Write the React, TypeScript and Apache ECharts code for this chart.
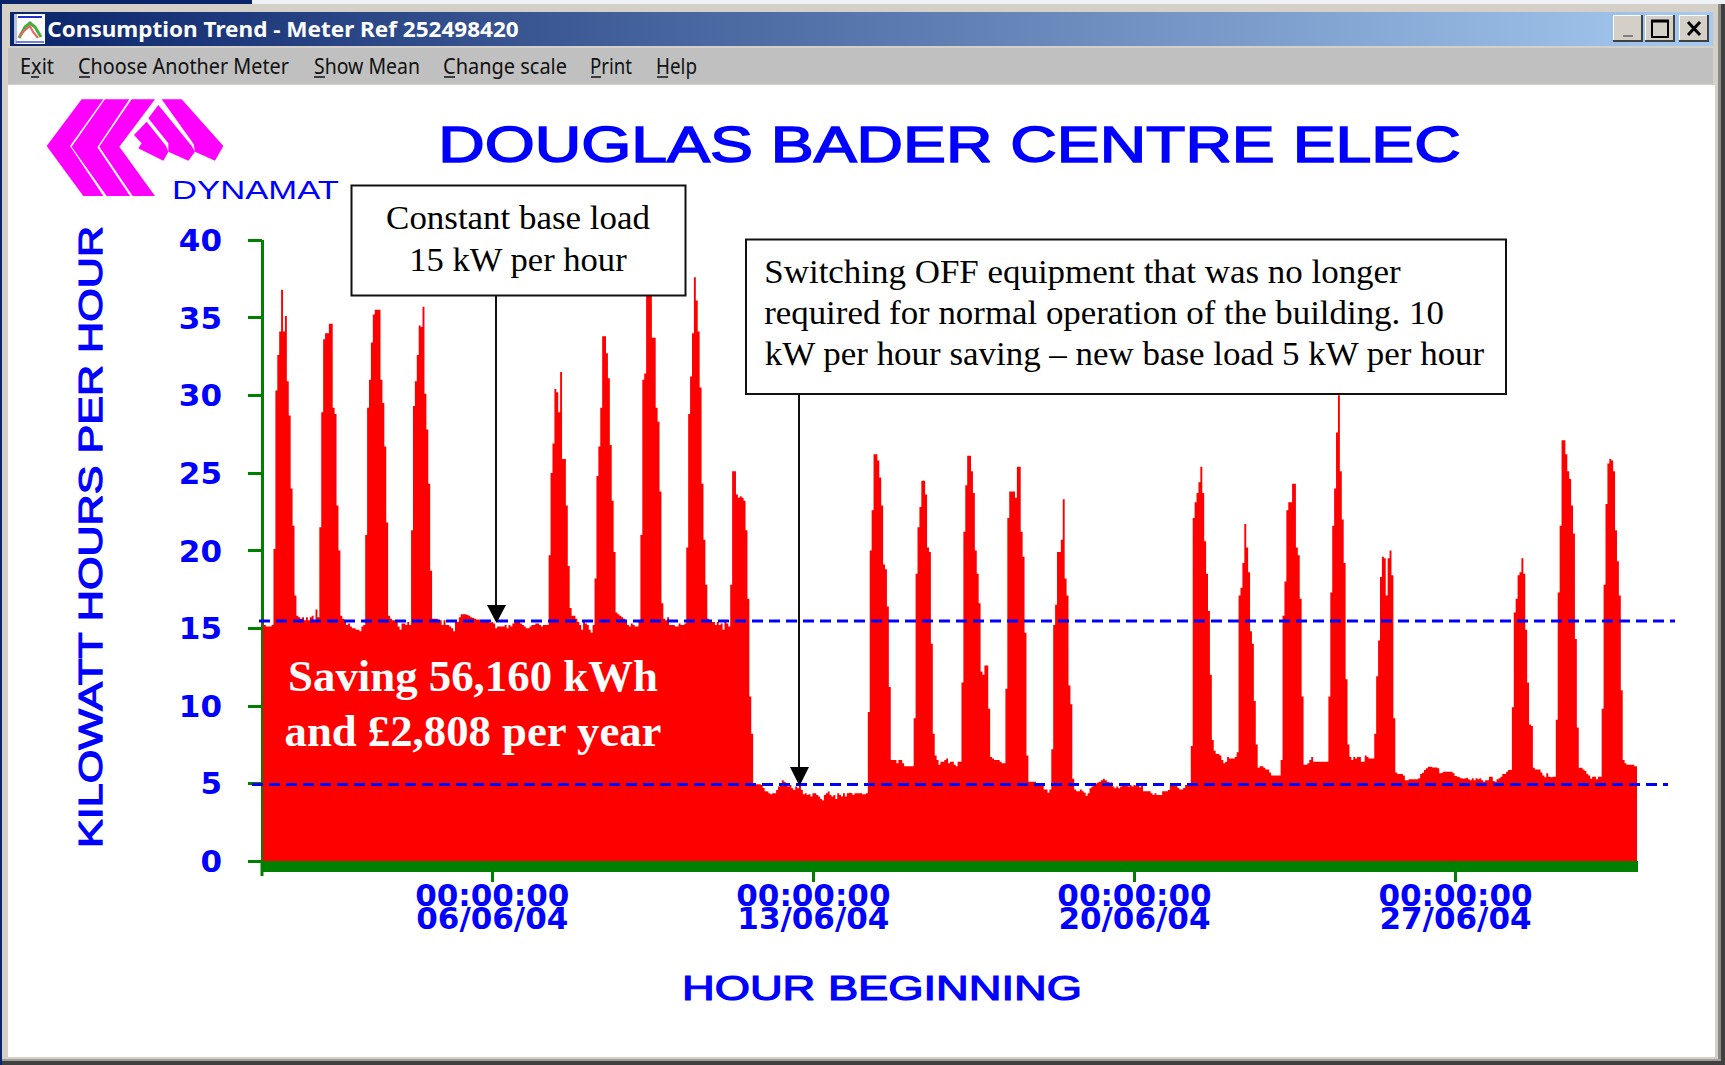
import React, { useEffect, useRef } from "react";
import * as echarts from "echarts";

const june01 = [15.6,15.2,15.1,15.1,15.1,15.2,20.1,30.3,32.6,34.1,36.8,34.1,35.1,30.9,28.7,24,21.6,17.1,15.8,15.7,15.6,15.7,15.5,15.7];
const june02 = [15.5,15.7,15.8,15.5,16.2,15.7,21.5,28.9,33.6,34,34,34.6,34.6,29.2,28.8,22.9,20,15.8,15.6,15.4,15.2,15.3,15.1,15];
const june03 = [15,14.9,14.9,14.8,15.1,15.2,21,29.2,31,33.4,35.2,35.5,35.5,35.5,31,29.5,26.7,21.8,15.8,15.6,15.5,15.5,15.4,15.1];
const june04 = [14.9,15.3,15.3,15.2,15.4,15.2,21.3,29.3,30.9,32.6,34.5,34.4,35.7,30.1,27.8,24.3,18.7,15.6,15.6,15.6,15.5,15.5,15.2,15.5];
const june05 = [15.2,15.2,15.1,15,14.8,15.4,15.4,15.7,15.9,15.9,15.9,15.85,15.8,15.7,15.65,15.6,15.55,15.55,15.5,15.5,15.45,15.45,15.4,15.35];
const june06 = [15.4,15.3,15,15.1,15.1,15.1,15.1,15.2,15,15.2,15.1,15.3,15.4,15.4,15.4,15.3,15.2,15.1,15,15,15.1,15.2,15.2,15.3];
const june07 = [15.3,15.2,15.1,15.2,15.2,15.2,19.7,25,26.9,30.4,30.2,28.9,31.5,25.9,25.9,22.9,19,16.3,15.8,15.8,15.6,15.4,15.2,14.9];
const june08 = [15.4,15.3,15.2,14.9,14.7,15.2,18.2,24.8,26.7,29.2,33.8,33.8,32.7,31.1,26.8,23.2,19.9,16,15.9,15.8,15.7,15.6,15.4,15.2];
const june09 = [15.1,15.3,15.2,15.1,15.1,15.4,21,31,31.4,37.5,38,36.7,33.7,33.7,29.2,28.3,23.8,16.6,15.6,15.5,15.7,15.2,15.2,15.2];
const june10 = [15.1,15.1,15.3,15.2,15.2,15.3,20.2,28.8,31.2,34,37.6,36.1,34.1,30.5,24.3,20.7,17.8,15.6,15.5,15.4,15.4,15.2,15.4,15.2];
const june11 = [15.3,14.9,15.4,15.3,15.1,17.8,25.1,25.1,23.6,23.4,23.5,23.4,23.2,21.3,16.9,10.6,8.2,4.95,4.95,4.95,4.95,4.9,4.7,4.5];
const june12 = [4.47,4.36,4.3,4.36,4.36,4.57,4.8,4.9,5.2,5.1,5,4.8,4.9,4.68,4.57,4.8,4.68,4.85,4.57,4.3,4.36,4.25,4.3,4.15];
const june13 = [4.36,4.36,4.25,4.15,4,3.9,4.25,4.36,4.47,4.25,4.15,4.25,4,4.36,4.25,4.15,4.36,4.15,4.36,4.4,4.36,4.25,4.36,4.36];
const june14 = [4.36,4.36,4.3,4.3,4.36,9.6,20,22.6,26.2,26.2,25.8,24.7,22.9,19.1,18.8,16.4,11.2,6.5,6.5,6.5,6.3,6.5,6.5,6.3];
const june15 = [6.1,6.1,6.1,6.1,6.1,9.2,18.5,21.5,22.8,24.5,24.5,23.6,20.2,19.9,14,8.2,6.8,6.5,6.2,6.4,6.4,6.5,6.6,6.3];
const june16 = [6.4,6.4,6.2,6.1,6.4,6.4,11.5,21.2,24.2,26.1,26.1,25.1,23.7,20,18.5,16.6,12.2,12,12.6,12.6,9.8,6.7,6.6,6.5];
const june17 = [6.5,6.5,6.4,6.3,6.3,11.1,22.1,23.8,23.8,23.8,23.4,25.4,25.4,21.2,19.6,14.7,6.8,5.1,5.1,5.1,5.1,5,4.9,5];
const june18 = [4.9,4.6,4.6,4.4,4.6,7.2,15.2,16.5,19.9,19.9,20.7,23.3,18.2,17.1,11.3,10.1,5.3,4.6,4.5,4.5,4.6,4.5,4.4,4.2];
const june19 = [4.36,4.68,4.8,4.9,5,5.05,5.1,5.2,5.3,5.2,5.1,5.05,5.05,4.8,4.68,4.8,4.68,4.8,4.9,4.85,4.9,4.8,4.9,4.8];
const june20 = [4.9,4.85,4.9,4.75,4.9,4.5,4.5,4.5,4.5,4.36,4.25,4.36,4.25,4.25,4.25,4.5,4.5,4.5,4.57,4.85,4.9,5,4.9,4.7];
const june21 = [4.6,4.6,4.7,4.9,4.9,4.9,7.4,22.1,23.1,23.7,24.4,25.4,23.7,20.6,18.5,16.1,12,7.8,7.1,6.9,6.9,6.8,6.5,6.3];
const june22 = [6.4,6.7,6.6,6.6,6.6,6.7,7,17.1,17.6,19.2,21.7,20.2,18.6,14.8,14,10.3,7.5,6,6.1,6.1,6,5.9,5.9,5.7];
const june23 = [5.5,5.5,5.5,5.5,5.5,6.5,15.8,18,22.6,23.1,23.1,24.3,24.3,20.2,19.7,16.9,10.6,6.2,6.2,6.3,6.5,6.7,6.4,6.4];
const june24 = [6.4,6.4,6.4,6.4,6.4,6.4,10.6,17.3,21.6,24,27.6,30,25.1,22,19.2,11.7,7.5,6.7,6.5,6.7,6.6,6.7,6.7,6.4];
const june25 = [6.4,6.8,6.7,6.6,6.6,6.6,8.2,11.9,14.2,18.3,19.6,19.5,17.1,19.5,20,18.4,9.2,5.7,5.6,5.6,5.6,5.5,5.2,5.2];
const june26 = [5.26,5.26,5.26,5.26,5.26,5.33,5.6,5.68,5.86,5.97,6.07,6.07,6.03,6.03,6.03,5.97,5.65,5.68,5.75,5.75,5.75,5.75,5.75,5.65];
const june27 = [5.47,5.43,5.39,5.33,5.29,5.33,5.37,5.26,5.2,5.33,5.2,5.33,5.26,5.33,5.2,5.1,5.2,5.2,5.43,5.43,5.15,5.1,5.26,5.33];
const june28 = [5.43,5.6,5.6,5.75,5.86,5.86,9.9,16,16.9,18.4,18.6,19.5,18.5,14.9,11.5,8.8,8.7,6,5.9,5.9,5.9,5.7,5.5,5.4];
const june29 = [5.65,5.43,5.39,5.43,5.43,9.1,17.3,21.6,27.1,27.1,26.2,25.1,24.6,22.9,21.1,14.3,8.6,6,6,5.9,5.8,5.6,5.5,5.3];
const june30 = [5.43,5.43,5.26,5.43,5.43,9.8,17.8,23,25.6,25.9,25.8,25.1,21.3,19.3,17.1,11,6.5,6.3,6.2,6.2,6.2,6.2,6.1,6.1];

const days = [june01,june02,june03,june04,june05,june06,june07,june08,june09,june10,june11,june12,june13,june14,june15,june16,june17,june18,june19,june20,june21,june22,june23,june24,june25,june26,june27,june28,june29,june30];
const consumption = days.flat();
const hourCategories: string[] = [];
days.forEach((_, d) => {
  for (let h = 0; h < 24; h++) {
    hourCategories.push(`${String(h).padStart(2, "0")}:00:00\n${String(d + 1).padStart(2, "0")}/06/04`);
  }
});
const labelledCategories = ["00:00:00\n06/06/04", "00:00:00\n13/06/04", "00:00:00\n20/06/04", "00:00:00\n27/06/04"];
const labelledIndexes = labelledCategories.map((c) => hourCategories.indexOf(c));
const yTicks = { min: 0, max: 40, interval: 5 };
const oldBaseLoad = 15.46;
const newBaseLoad = 4.93;

const BLUE = "#0000ff";
const GREEN = "#008000";
const SERIF = '"Liberation Serif"';
const SANS = '"Liberation Sans"';

function measure(text: string, font: string) {
  const c = document.createElement("canvas").getContext("2d")!;
  c.font = font;
  return c.measureText(text).width;
}

// text stretched to a given width, since the reference's lettering is a stretched screenshot
function st(text: string, font: string, cx: number, cy: number, width: number, fill: string, rotation = 0, strokeW = 0) {
  const sx = width / measure(text, font);
  return {
    type: "text", x: cx, y: cy, scaleX: sx, scaleY: 1, rotation, z: 20, silent: true,
    style: {
      text, font, fill, textAlign: "center", textVerticalAlign: "middle",
      ...(strokeW ? { stroke: fill, lineWidth: strokeW } : {}),
    },
  };
}
const rect = (x: number, y: number, w: number, h: number, fill: any, extra: any = {}, z = 1) => ({
  type: "rect", z, silent: true, shape: { x, y, width: w, height: h }, style: { fill, ...extra },
});
const poly = (pts: number[][], fill: string, z = 2, ox = 0, oy = 0, k = 1) => ({
  type: "polygon", z, silent: true, shape: { points: pts.map(([a, b]) => [ox + a * k, oy + b * k]) }, style: { fill },
});
const line = (x1: number, y1: number, x2: number, y2: number, stroke: string, lineWidth = 2, z = 15, lineDash?: number[]) => ({
  type: "line", z, silent: true, shape: { x1, y1, x2, y2 }, style: { stroke, lineWidth, lineDash },
});

function chrome(): any[] {
  const menuFont = '22px "Noto Sans"';
  const menu: [string, number, number, number, number][] = [
    ["Exit", 20, 54, 31, 39],
    ["Choose Another Meter", 78, 289, 79, 90],
    ["Show Mean", 314, 420, 314, 325],
    ["Change scale", 443, 567, 444, 455],
    ["Print", 590, 632, 591, 601],
    ["Help", 656, 697, 657, 668],
  ];
  const btn = (x: number, w = 30) => [
    rect(x, 15, w, 27, "#d4d0c8"),
    line(x, 15.5, x + w, 15.5, "#ffffff", 1, 3),
    line(x + 0.5, 15, x + 0.5, 42, "#ffffff", 1, 3),
    line(x, 41, x + w, 41, "#404040", 2, 3),
    line(x + w - 1, 15, x + w - 1, 42, "#404040", 2, 3),
  ];
  return [
    rect(0, 0, 1725, 12, "#eef2f6"),
    rect(0, 0, 252, 4, "#0a246a"),
    rect(2, 4, 1719, 1058, "#d4d0c8"),
    rect(0, 4, 2, 1061, "#0a246a"),
    rect(10, 12, 1703, 34, new echarts.graphic.LinearGradient(0, 0, 1, 0, [{ offset: 0, color: "#0a246a" }, { offset: 1, color: "#a6caf0" }])),
    rect(8, 48, 1705, 36, "#c0c0c0"),
    rect(8, 85, 1707, 972, "#ffffff"),
    rect(1721, 4, 4, 1061, "#404040"),
    rect(1718, 4, 3, 1058, "#8c8a85"),
    rect(2, 1061, 1723, 4, "#404040"),
    rect(2, 1059, 1719, 2, "#a09e98"),
    // window icon
    rect(14, 14, 31, 30, "#ffffff"),
    rect(14, 14, 3, 30, "#b8c0e0", {}, 2),
    rect(18, 16, 24, 2, "#2030d0", {}, 2),
    rect(16, 41, 28, 2, "#7080e0", {}, 2),
    { type: "polyline", z: 2, silent: true, shape: { points: [[19, 38], [25, 27], [30, 23], [35, 27], [41, 37]] }, style: { stroke: "#40b040", lineWidth: 3, fill: "none" } },
    { type: "polyline", z: 3, silent: true, shape: { points: [[19, 37], [24, 31], [30, 26], [33, 32], [38, 38]] }, style: { stroke: "#f06060", lineWidth: 2, fill: "none" } },
    st("Consumption Trend - Meter Ref 252498420", 'bold 22px "Noto Sans"', 283, 29, 472, "#ffffff"),
    ...menu.flatMap(([t, a, b, u1, u2]) => [
      st(t, menuFont, (a + b) / 2, 65.5, b - a, "#111111"),
      line(u1, 77, u2, 77, "#111111", 1.5, 20),
    ]),
    ...btn(1613), ...btn(1645), ...btn(1679),
    line(1623, 36, 1633, 36, "#808080", 2, 4),
    rect(1652, 21, 16, 16, "none", { stroke: "#000000", lineWidth: 2 }, 4),
    line(1651, 21, 1669, 21, "#000000", 3, 4),
    line(1688, 22, 1700, 35, "#000000", 3, 4),
    line(1700, 22, 1688, 35, "#000000", 3, 4),
  ];
}

function logo(): any[] {
  const ox = 40, oy = 90, k = 1 / 3;
  const M = "#ff00ff";
  const parts = [
    [[125,28],[190,28],[90,168],[190,318],[130,318],[20,168]],
    [[195,28],[268,28],[172,172],[270,318],[200,318],[95,170]],
    [[275,28],[345,28],[238,170],[345,318],[278,318],[178,170]],
    [[365,28],[425,28],[550,168],[525,212],[465,185],[461,162]],
    [[355,45],[455,168],[465,185],[445,212],[385,185],[385,160],[325,85]],
    [[320,95],[378,168],[385,185],[370,212],[295,175],[305,160],[282,135]],
  ];
  return parts.map((p) => poly(p, M, 2, ox, oy, k));
}

function annotations(y15: number, y5: number): any[] {
  const box = (x: number, y: number, w: number, h: number) =>
    rect(x, y, w, h, "#ffffff", { stroke: "#111111", lineWidth: 2 }, 16);
  const F = `33px ${SERIF}`;
  const left = (t: string, y: number, w: number) => st(t, F, 764 + w / 2, y, w, "#000000");
  const B = `bold 44px ${SERIF}`;
  return [
    line(259, y15, 1675, y15, BLUE, 3, 12, [11, 6]),
    line(252, y5, 1668, y5, BLUE, 3, 12, [11, 6]),
    line(496, 295, 496, 610, "#111111", 2),
    poly([[487, 605], [506, 605], [496.5, 623]], "#000000", 15),
    line(799, 394, 799, 772, "#111111", 2),
    poly([[790, 767], [809, 767], [799.5, 786]], "#000000", 15),
    box(351.5, 185.5, 334, 110),
    st("Constant base load", F, 518, 218, 264, "#000000"),
    st("15 kW per hour", F, 518, 260, 218, "#000000"),
    box(746, 239.5, 760, 154.5),
    left("Switching OFF equipment that was no longer", 272, 637),
    left("required for normal operation of the building. 10", 313, 680),
    left("kW per hour saving \u2013 new base load 5 kW per hour", 354, 721),
    st("Saving 56,160 kWh", B, 473, 676, 370, "#ffffff"),
    st("and \u00a32,808 per year", B, 473, 731, 378, "#ffffff"),
  ];
}

export default function App() {
  const ref = useRef<HTMLDivElement>(null);
  useEffect(() => {
    const chart = echarts.init(ref.current!, undefined, { renderer: "svg" });
    const option: any = {
      animation: false,
      backgroundColor: "#ffffff",
      grid: { left: 262, top: 240, width: 1376, height: 621, containLabel: false },
      xAxis: {
        type: "category",
        z: 5,
        data: hourCategories,
        boundaryGap: true,
        offset: 5.5,
        axisLine: { onZero: false, lineStyle: { color: GREEN, width: 11, cap: "butt" } },
        axisTick: {
          show: true, alignWithLabel: true, length: 15.5,
          customValues: labelledIndexes,
          lineStyle: { color: GREEN, width: 3 },
        },
        axisLabel: {
          interval: (i: number) => labelledIndexes.includes(i),
          margin: 17, color: BLUE, fontFamily: "DejaVu Sans", fontWeight: "bold", fontSize: 31, lineHeight: 23,
          hideOverlap: false,
        },
        splitLine: { show: false },
      },
      yAxis: {
        type: "value", ...yTicks,
        z: 5,
        axisLine: { show: true, lineStyle: { color: GREEN, width: 3, cap: "butt" } },
        axisTick: { show: true, length: 14, lineStyle: { color: GREEN, width: 3 } },
        axisLabel: { margin: 40, color: BLUE, fontFamily: "DejaVu Sans", fontWeight: "bold", fontSize: 31 },
        splitLine: { show: false },
      },
      series: [{
        type: "line", name: "Consumption", data: consumption, step: "middle", symbol: "none", showSymbol: false,
        silent: true, z: 6,
        lineStyle: { width: 0 }, areaStyle: { color: "#ff0000", opacity: 1 },
      }],
    };
    chart.setOption(option);
    const y15 = chart.convertToPixel({ yAxisIndex: 0 }, oldBaseLoad) as number;
    const y5 = chart.convertToPixel({ yAxisIndex: 0 }, newBaseLoad) as number;
    chart.setOption({
      graphic: [
        ...chrome(),
        ...logo(),
        st("DYNAMAT", `25px ${SANS}`, 255.5, 190.5, 167, BLUE),
        st("DOUGLAS BADER CENTRE ELEC", `50px ${SANS}`, 949.5, 145, 1023, BLUE, 0, 1.5),
        st("KILOWATT HOURS PER HOUR", `33px ${SANS}`, 90, 537, 623, BLUE, Math.PI / 2, 1.2),
        st("HOUR BEGINNING", `35px ${SANS}`, 882, 988, 400, BLUE, 0, 1.2),
        rect(260.5, 861, 3, 15, GREEN, {}, 5),
        ...annotations(y15, y5),
      ],
    });
    return () => chart.dispose();
  }, []);
  return <div ref={ref} style={{ position: "fixed", left: 0, top: 0, width: 1725, height: 1065 }} />;
}
